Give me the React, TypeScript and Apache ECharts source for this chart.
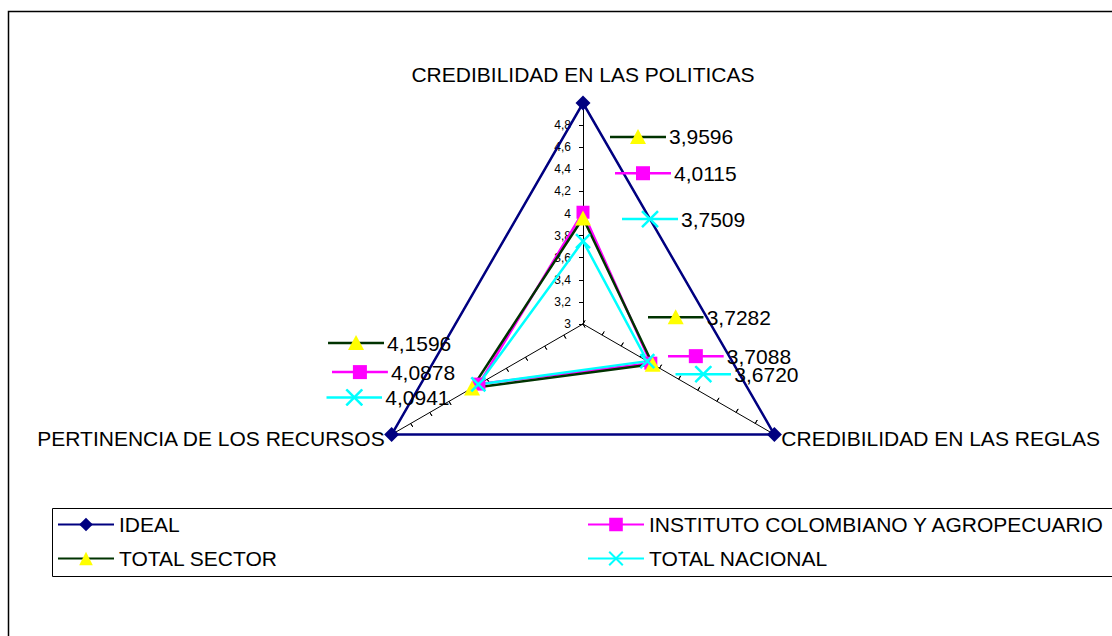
import React, { useEffect, useRef } from 'react';
import * as echarts from 'echarts';

const FONT = '"Liberation Sans", Arial, Helvetica, sans-serif';

// Axes (radar indicators), in drawing order: top, lower-left, lower-right
const indicatorNames = ['CREDIBILIDAD EN LAS POLITICAS', 'PERTINENCIA DE LOS RECURSOS', 'CREDIBILIDAD EN LAS REGLAS'];
const indicatorAngles = [0, 120, 240];
const axisMin = 3;
const axisMax = 5;
const axisSplits = 10;

const seriesNames = ['IDEAL', 'INSTITUTO COLOMBIANO Y AGROPECUARIO', 'TOTAL SECTOR', 'TOTAL NACIONAL'];
const idealValues = [5, 5, 5];
const institutoValues = [4.0115, 4.0878, 3.7088];
const sectorValues = [3.9596, 4.1596, 3.7282];
const nacionalValues = [3.7509, 4.0941, 3.672];

// label placement (style only): offsets from each point to its data-label key
const institutoLabelOffsets = [[32, -39], [-147, -12], [17, -7]];
const sectorLabelOffsets = [[27, -81], [-144, -45], [-5, -47]];
const nacionalLabelOffsets = [[39, -22], [-152, 13], [28, 13]];

const NAVY = '#000080';
const MAGENTA = '#FF00FF';
const DKGREEN = '#003300';
const YELLOW = '#FFFF00';
const CYAN = '#00FFFF';

const X_PATH = 'path://M0,0 L10,10 M10,0 L0,10';

const keyUrl = (lineColor: string, marker: string) =>
  'data:image/svg+xml;charset=utf-8,' +
  encodeURIComponent(
    `<svg xmlns="http://www.w3.org/2000/svg" width="56" height="18" viewBox="0 0 56 18"><line x1="0" y1="9" x2="56" y2="9" stroke="${lineColor}" stroke-width="2.5"/>${marker}</svg>`
  );

const institutoKey = keyUrl(MAGENTA, `<rect x="21" y="2" width="14" height="14" fill="${MAGENTA}"/>`);
const sectorKey = keyUrl(DKGREEN, `<polygon points="28,1 36,16 20,16" fill="${YELLOW}"/>`);
const nacionalKey = keyUrl(CYAN, `<path d="M20,1 L36,17 M36,1 L20,17" stroke="${CYAN}" stroke-width="2.5" fill="none"/>`);

const fmt = (v: number) => v.toFixed(4).replace('.', ',');

function buildSeries(
  name: string,
  values: number[],
  lineColor: string,
  symColor: string,
  symbol: string,
  symbolSize: number | number[],
  key: string | null,
  offsets: number[][] | null,
  extraItem: any = {}
) {
  const data: any[] = values.map((v, i) => {
    const item: any = { value: [v, indicatorAngles[i]] };
    if (key && offsets) {
      item.label = {
        show: true,
        position: 'inside',
        align: 'left',
        verticalAlign: 'middle',
        offset: offsets[i],
        formatter: (p: any) => `{k|}{t|${fmt(p.value[0])}}`,
        rich: {
          k: { width: 56, height: 18, backgroundColor: { image: key } },
          t: { fontSize: 21, fontFamily: FONT, color: '#000', padding: [0, 0, 0, 3] },
        },
      };
    }
    return item;
  });
  data.push({ value: [values[0], 360], symbol: 'none', label: { show: false } });
  return {
    type: 'line',
    name,
    coordinateSystem: 'polar',
    polarIndex: 0,
    symbol,
    symbolSize,
    showAllSymbol: true,
    lineStyle: { color: lineColor, width: 2.5 },
    itemStyle: { color: symColor, ...extraItem },
    label: { show: false },
    emphasis: { disabled: true },
    data,
  };
}

export default function App() {
  const ref = useRef<HTMLDivElement>(null);
  useEffect(() => {
    if (!ref.current) return;
    const chart = echarts.init(ref.current, null, { renderer: 'svg' });
    const radarBase = {
      center: [583, 324],
      radius: 221,
      startAngle: 90,
      splitNumber: axisSplits,
      shape: 'polygon',
      splitLine: { show: false },
      splitArea: { show: false },
    };
    const legendBase = {
      orient: 'vertical',
      top: 514,
      padding: 0,
      itemWidth: 56,
      itemHeight: 17,
      itemGap: 13,
      textStyle: { fontSize: 21, fontFamily: FONT, color: '#000', lineHeight: 21 },
      selectedMode: false,
    };
    chart.setOption({
      animation: false,
      backgroundColor: '#fff',
      radar: [
        {
          ...radarBase,
          indicator: indicatorNames.map((n, i) => ({
            name: n,
            min: axisMin,
            max: axisMax,
            nameGap: i === 0 ? 18 : 8,
            ...(i === 0 ? {} : { axisLabel: { show: false } }),
          })),
          nameGap: 8,
          axisName: { color: '#000', fontSize: 21, fontFamily: FONT },
          axisLine: { show: true, lineStyle: { color: '#000', width: 1 } },
          axisTick: { show: true, length: 4, lineStyle: { color: '#000', width: 1 } },
          axisLabel: {
            show: true,
            fontSize: 12,
            color: '#000',
            fontFamily: FONT,
            margin: 12,
            formatter: (v: number) => (v >= axisMax ? '' : String(Math.round(v * 10) / 10).replace('.', ',')),
          },
        },
        {
          ...radarBase,
          indicator: indicatorNames.map((n) => ({ name: n, min: axisMin, max: axisMax })),
          axisName: { show: false },
          axisLine: { show: false },
          axisTick: { show: true, inside: true, length: 4, lineStyle: { color: '#000', width: 1 } },
          axisLabel: { show: false },
        },
      ],
      polar: { center: [583, 324], radius: 221 },
      angleAxis: { type: 'value', min: 0, max: 360, startAngle: 90, clockwise: false, show: false },
      radiusAxis: { type: 'value', min: axisMin, max: axisMax, show: false },
      legend: [
        { ...legendBase, data: [seriesNames[0], seriesNames[2]], left: 57 },
        { ...legendBase, data: [seriesNames[1], seriesNames[3]], left: 587 },
      ],
      graphic: [
        {
          type: 'rect',
          shape: { x: 8.5, y: 11.5, width: 1200, height: 700 },
          style: { fill: 'none', stroke: '#000', lineWidth: 1.5 },
          silent: true,
        },
        {
          type: 'rect',
          shape: { x: 52.5, y: 508.5, width: 1100, height: 68 },
          style: { fill: 'none', stroke: '#000', lineWidth: 1 },
          silent: true,
        },
      ],
      series: [
        buildSeries(seriesNames[0], idealValues, NAVY, NAVY, 'diamond', 15, null, null),
        buildSeries(seriesNames[1], institutoValues, MAGENTA, MAGENTA, 'rect', 13, institutoKey, institutoLabelOffsets),
        buildSeries(seriesNames[2], sectorValues, DKGREEN, YELLOW, 'triangle', [16, 15], sectorKey, sectorLabelOffsets),
        buildSeries(seriesNames[3], nacionalValues, CYAN, CYAN, X_PATH, 14, nacionalKey, nacionalLabelOffsets, {
          borderColor: CYAN,
          borderWidth: 2.5,
        }),
      ],
    });
    return () => chart.dispose();
  }, []);
  return <div ref={ref} style={{ position: 'absolute', left: 0, top: 0, width: 1112, height: 636 }} />;
}
